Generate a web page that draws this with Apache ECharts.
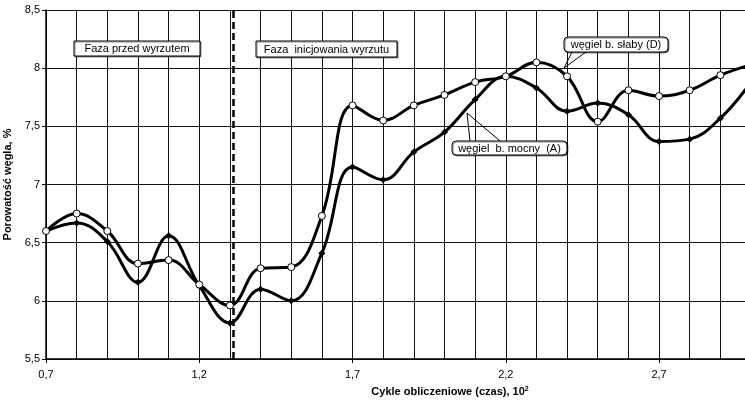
<!DOCTYPE html>
<html>
<head>
<meta charset="utf-8">
<script src="https://cdn.jsdelivr.net/npm/echarts@6.0.0/dist/echarts.min.js"></script>
<style>
  html, body { margin: 0; padding: 0; background: #fff; }
  #chart { width: 745px; height: 407px; }
</style>
</head>
<body>
<div id="chart"></div>
<script>
// cykle obliczeniowe (x 10^2)
const cycles = [0.7, 0.8, 0.9, 1.0, 1.1, 1.2, 1.3, 1.4, 1.5, 1.6, 1.7, 1.8, 1.9, 2.0, 2.1, 2.2, 2.3, 2.4, 2.5, 2.6, 2.7, 2.8, 2.9, 3.0]
// porowatosc, %
const slaby = [6.60, 6.75, 6.60, 6.32, 6.35, 6.14, 5.96, 6.28, 6.29, 6.73, 7.68, 7.55, 7.68, 7.77, 7.88, 7.93, 8.05, 7.93, 7.54, 7.81, 7.76, 7.81, 7.94, 8.03]
const mocny = [6.60, 6.67, 6.51, 6.16, 6.56, 6.13, 5.81, 6.10, 6.00, 6.41, 7.15, 7.04, 7.28, 7.45, 7.73, 7.93, 7.83, 7.63, 7.70, 7.60, 7.37, 7.39, 7.57, 7.88]
const phaseBoundary = 1.31

const font = 'Liberation Sans'

function pairs (ys) {
  return cycles.map((x, i) => [x, ys[i]])
}

function comma (v) {
  return String(Math.round(v * 10) / 10).replace('.', ',')
}

// white label box, drawn above the plot
function box (x, y, w, h, r, label) {
  return [
    { type: 'rect', z: 101, shape: { x: x, y: y, width: w, height: h, r: r },
      style: { fill: '#fff', stroke: '#000', lineWidth: 1, shadowColor: 'rgba(0,0,0,0.45)', shadowOffsetX: 1, shadowOffsetY: 1 } },
    { type: 'text', z: 102, x: x + w / 2, y: y + h / 2 + 0.5,
      style: { text: label, font: '11px "' + font + '"', fill: '#000', align: 'center', verticalAlign: 'middle' } }
  ]
}

const chart = echarts.init(document.getElementById('chart'))

chart.setOption({
  animation: false,
  grid: { left: 46, right: -6, top: 10, bottom: 48, containLabel: false, outerBoundsMode: 'none' },
  xAxis: [
    {
      type: 'value',
      min: 0.7,
      max: 3.0,
      interval: 0.1,
      axisLine: { show: true, lineStyle: { color: '#000', width: 1.5 } },
      axisTick: { show: false },
      axisLabel: { show: false },
      splitLine: { show: true, lineStyle: { color: '#111', width: 1 } }
    },
    {
      type: 'value',
      min: 0.7,
      max: 3.0,
      interval: 0.5,
      position: 'bottom',
      axisLine: { show: false },
      axisTick: { show: true, length: 4, lineStyle: { color: '#000' } },
      splitLine: { show: false },
      axisLabel: {
        margin: 10,
        fontFamily: font,
        fontSize: 11,
        color: '#000',
        formatter: function (v) {
          const k = Math.round((v - 0.7) / 0.5 * 100) / 100
          return Number.isInteger(k) ? comma(v) : ''
        }
      }
    }
  ],
  yAxis: {
    type: 'value',
    min: 5.5,
    max: 8.5,
    interval: 0.5,
    name: 'Porowatość węgla, %',
    nameLocation: 'middle',
    nameGap: 27,
    nameTextStyle: { fontFamily: font, fontSize: 11, fontWeight: 'bold', color: '#000' },
    axisLine: { show: true, lineStyle: { color: '#000', width: 1.5 } },
    axisTick: { show: true, length: 4, lineStyle: { color: '#000' } },
    axisLabel: { fontFamily: font, fontSize: 11, color: '#000', margin: 6, formatter: comma },
    splitLine: { show: true, lineStyle: { color: '#111', width: 1 } }
  },
  series: [
    {
      name: 'węgiel b. mocny (A)',
      type: 'line',
      data: pairs(mocny),
      smooth: 0.4,
      clip: true,
      symbol: 'diamond',
      symbolSize: 7,
      itemStyle: { color: '#000' },
      lineStyle: { color: '#000', width: 3 },
      markLine: {
        silent: true,
        symbol: 'none',
        label: { show: false },
        lineStyle: { color: '#000', width: 2.5, type: [7, 4] },
        data: [{ xAxis: phaseBoundary }]
      }
    },
    {
      name: 'węgiel b. słaby (D)',
      type: 'line',
      data: pairs(slaby),
      smooth: 0.4,
      clip: true,
      symbol: 'circle',
      symbolSize: 7,
      itemStyle: { color: '#fff', borderColor: '#000', borderWidth: 1 },
      lineStyle: { color: '#000', width: 3 }
    }
  ],
  graphic: [
    { type: 'polyline', z: 100, shape: { points: [[572, 52], [564, 68], [586, 52]] },
      style: { stroke: '#000', lineWidth: 1, fill: null } },
    { type: 'polyline', z: 100, shape: { points: [[470, 141], [467, 113], [500, 141]] },
      style: { stroke: '#000', lineWidth: 1, fill: null } },
    ...box(74, 41, 126, 15, 0, 'Faza przed wyrzutem'),
    ...box(256, 41, 141, 16, 0, 'Faza  inicjowania wyrzutu'),
    ...box(564, 37, 104, 15, 4, 'węgiel b. słaby (D)'),
    ...box(452, 141, 115, 14, 4, 'węgiel  b. mocny  (A)'),
    {
      type: 'text', z: 102, x: 450, y: 392,
      style: {
        text: '{a|Cykle obliczeniowe (czas), 10}{s|2}',
        align: 'center', verticalAlign: 'middle',
        rich: {
          a: { fontFamily: font, fontSize: 11, fontWeight: 'bold', fill: '#000' },
          s: { fontFamily: font, fontSize: 7, fontWeight: 'bold', fill: '#000', verticalAlign: 'top', padding: [0, 0, 6, 0] }
        }
      }
    }
  ]
})
</script>
</body>
</html>
